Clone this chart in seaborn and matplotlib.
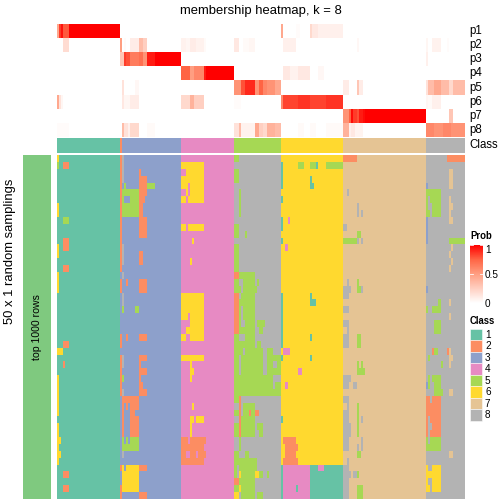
import numpy as np
import matplotlib
matplotlib.use("Agg")
import matplotlib.pyplot as plt
from matplotlib.colors import ListedColormap, LinearSegmentedColormap
from matplotlib.patches import Rectangle
import seaborn as sns

plt.rcParams['font.family'] = ['Liberation Sans', 'DejaVu Sans']

class_names = ['1', '2', '3', '4', '5', '6', '7', '8']
class_colors = ['#66C2A5', '#FC8D62', '#8DA0CB', '#E78AC3', '#A6D854', '#FFD92F', '#E5C494', '#B3B3B3']
prob_labels = ['p1', 'p2', 'p3', 'p4', 'p5', 'p6', 'p7', 'p8']
# white to red as the reference ramps it (through salmon, not pink)
prob_ramp = ['#FFFFFF', '#FFCFC1', '#FF9E81', '#FF6545', '#FF0000']

# samples per class, in drawing order (200 samples)
class_sizes = [31, 1, 29, 26, 23, 30, 41, 19]
# class most rows give to each of those groups in the 50 sampling rows
main_base = [1, 3, 3, 4, 8, 6, 7, 8]

# membership runs: (first sample, last sample, prob)
p1_runs = [(0, 0, .45), (1, 1, .85), (2, 2, .95), (3, 5, .78), (6, 30, 1), (110, 110, .45), (117, 118, .02),
           (124, 124, .2), (125, 127, .12), (128, 139, .08)]
p2_runs = [(3, 5, .18), (31, 31, .5), (33, 33, .03), (36, 39, .1), (40, 41, .35), (42, 43, .25), (61, 62, .07),
           (63, 64, .05), (65, 67, .1), (68, 71, .07), (72, 72, .03), (87, 88, .12), (91, 93, .03), (94, 96, .05),
           (111, 116, .08), (147, 147, .04), (181, 181, .05), (184, 187, .07), (191, 191, .02)]
p3_runs = [(31, 32, .3), (33, 33, .85), (34, 35, .8), (36, 39, .65), (40, 41, .7), (42, 43, .55), (44, 47, .93),
           (48, 60, 1), (181, 181, .08)]
p4_runs = [(61, 64, .75), (65, 66, .5), (67, 71, .6), (72, 72, .93), (73, 86, 1), (111, 113, .12), (114, 117, .07),
           (118, 123, .12), (128, 130, .04)]
p5_runs = [(32, 32, .15), (38, 39, .04), (87, 89, .55), (90, 91, .8), (92, 96, .9), (97, 98, .55), (99, 100, .75),
           (101, 102, .6), (103, 106, .55), (107, 109, .45), (140, 142, .1), (147, 147, .3), (148, 149, .1),
           (181, 181, .15), (182, 184, .35), (185, 187, .45), (188, 191, .35), (192, 193, .2), (194, 199, .35)]
p6_runs = [(0, 0, .45), (1, 1, .15), (2, 2, .05), (32, 32, .12), (33, 35, .05), (36, 39, .1), (61, 64, .2),
           (65, 66, .4), (67, 71, .25), (87, 89, .02), (110, 110, .6), (111, 117, .83), (118, 123, .87),
           (124, 131, .83), (132, 139, .87), (181, 181, .05), (182, 183, .03), (184, 187, .08)]
p7_runs = [(140, 142, .55), (143, 143, .75), (144, 144, .97), (145, 146, .85), (147, 147, .8), (148, 149, .93),
           (150, 150, .97), (151, 180, 1), (192, 193, .3)]
p8_runs = [(0, 5, .02), (32, 32, .35), (33, 34, .15), (35, 35, .08), (36, 39, .2), (44, 47, .03), (87, 88, .15),
           (89, 89, .35), (90, 96, .07), (97, 98, .45), (99, 100, .25), (101, 102, .2), (103, 106, .4),
           (107, 109, .35), (118, 120, .03), (124, 126, .03), (132, 139, .03), (140, 142, .4), (143, 143, .08),
           (144, 145, .12), (146, 149, .06), (181, 184, .6), (185, 188, .55), (189, 192, .6), (193, 199, .55)]

# sampling rows that differ from main_base: (first row, last row, first sample, last sample, class)
diff_c1 = [(0, 0, 0, 0, 6), (1, 1, 0, 0, 5), (1, 1, 3, 5, 2), (7, 8, 0, 0, 6), (9, 9, 3, 5, 5), (12, 13, 3, 5, 2),
           (13, 14, 0, 0, 6), (16, 16, 3, 5, 2), (17, 19, 0, 0, 6), (27, 27, 3, 5, 2), (28, 28, 0, 2, 6),
           (30, 30, 3, 3, 2), (32, 37, 0, 0, 6), (39, 40, 0, 0, 6), (41, 41, 0, 1, 6), (42, 42, 0, 0, 6),
           (43, 43, 0, 1, 6), (44, 44, 0, 0, 6), (46, 46, 3, 5, 2), (48, 48, 3, 5, 2)]
diff_c3 = [(0, 16, 31, 31, 2), (18, 19, 31, 31, 2), (26, 27, 31, 31, 2), (29, 34, 31, 31, 2), (45, 45, 31, 31, 2),
           (48, 49, 31, 31, 2), (0, 3, 32, 32, 8), (13, 15, 32, 32, 8), (17, 17, 32, 32, 8), (20, 21, 32, 32, 8),
           (22, 22, 32, 32, 5), (4, 4, 33, 33, 5), (5, 8, 32, 39, 5), (6, 6, 33, 35, 3), (2, 2, 40, 40, 2),
           (3, 5, 40, 43, 2), (6, 6, 40, 42, 2), (7, 8, 40, 41, 2), (9, 11, 40, 43, 2), (4, 4, 44, 47, 5),
           (14, 15, 40, 41, 2), (18, 19, 40, 43, 2), (18, 18, 34, 34, 2), (22, 22, 38, 39, 5), (26, 26, 34, 34, 2),
           (26, 26, 40, 43, 2), (29, 30, 32, 32, 8), (32, 32, 32, 32, 5), (34, 34, 32, 32, 8), (29, 29, 40, 43, 2),
           (30, 30, 40, 40, 2), (31, 31, 40, 43, 2), (32, 32, 40, 40, 2), (33, 33, 40, 41, 2), (34, 34, 40, 43, 2),
           (35, 35, 32, 39, 2), (36, 36, 32, 32, 2), (36, 36, 34, 34, 2), (36, 36, 36, 39, 2), (37, 37, 32, 32, 2),
           (37, 37, 36, 37, 2), (38, 40, 32, 32, 2), (38, 40, 36, 39, 2), (41, 41, 32, 32, 5), (41, 41, 34, 34, 5),
           (41, 41, 36, 39, 5), (42, 42, 32, 39, 5), (43, 43, 32, 32, 8), (45, 45, 32, 32, 6), (45, 45, 34, 39, 6),
           (45, 45, 40, 43, 2), (46, 48, 32, 39, 6), (49, 49, 40, 43, 2)]
diff_c4 = [(1, 1, 61, 71, 6), (2, 2, 63, 71, 6), (3, 3, 61, 71, 6), (4, 4, 61, 63, 6), (4, 4, 65, 71, 6),
           (5, 5, 63, 63, 6), (5, 5, 65, 71, 6), (6, 6, 61, 62, 6), (6, 6, 64, 71, 6), (10, 10, 61, 62, 6),
           (10, 10, 64, 71, 6), (12, 12, 66, 66, 6), (15, 15, 65, 65, 6), (20, 22, 61, 71, 6), (23, 23, 61, 63, 6),
           (23, 23, 65, 71, 6), (24, 24, 65, 71, 6), (25, 25, 63, 71, 6), (26, 26, 61, 62, 6), (26, 26, 65, 71, 6),
           (29, 29, 61, 71, 6), (30, 30, 65, 65, 6), (31, 31, 65, 66, 6), (32, 32, 65, 65, 6), (36, 36, 66, 66, 6),
           (38, 38, 65, 66, 6), (38, 38, 68, 71, 6), (39, 40, 65, 65, 6), (41, 41, 61, 63, 2), (41, 41, 65, 72, 2),
           (42, 42, 61, 71, 2), (43, 43, 61, 62, 2), (43, 43, 65, 67, 2), (43, 43, 69, 72, 2), (44, 44, 61, 71, 2)]
diff_c5 = [(0, 0, 87, 88, 5), (2, 3, 87, 88, 5), (5, 8, 89, 89, 5), (10, 11, 87, 88, 5), (11, 11, 92, 92, 5),
           (13, 16, 87, 88, 5), (17, 17, 87, 88, 2), (17, 17, 89, 96, 5), (18, 18, 87, 88, 5), (18, 18, 91, 96, 5),
           (18, 18, 98, 98, 5), (19, 19, 87, 89, 5), (19, 19, 91, 97, 5), (20, 20, 87, 88, 2), (20, 20, 90, 96, 5),
           (21, 21, 87, 88, 2), (21, 21, 89, 96, 5), (22, 23, 87, 88, 2), (22, 23, 89, 89, 5), (22, 23, 91, 96, 5),
           (24, 24, 87, 88, 2), (24, 24, 89, 89, 5), (24, 24, 92, 96, 5), (24, 24, 98, 101, 5), (25, 25, 87, 88, 2),
           (25, 25, 89, 96, 5), (25, 25, 99, 100, 5), (26, 26, 87, 88, 5), (26, 26, 92, 96, 5), (27, 27, 87, 96, 5),
           (27, 27, 98, 99, 5), (28, 28, 87, 90, 5), (28, 28, 92, 100, 5), (28, 28, 103, 105, 5), (29, 29, 87, 88, 5),
           (29, 29, 90, 100, 5), (29, 29, 103, 109, 5), (30, 30, 87, 88, 5), (30, 30, 90, 100, 5), (30, 30, 103, 105, 5),
           (30, 30, 108, 109, 5), (31, 31, 87, 88, 5), (31, 31, 90, 100, 5), (31, 31, 103, 109, 5), (32, 32, 87, 105, 5),
           (33, 33, 87, 105, 5), (33, 33, 107, 109, 5), (34, 34, 87, 102, 5), (34, 34, 103, 109, 5), (35, 35, 87, 88, 5),
           (35, 40, 89, 89, 2), (36, 36, 91, 96, 5), (37, 37, 87, 88, 5), (37, 37, 91, 93, 5), (37, 37, 94, 94, 2),
           (37, 37, 95, 96, 5), (37, 37, 97, 98, 2), (38, 38, 90, 96, 5), (39, 40, 87, 88, 5), (39, 40, 90, 96, 5),
           (39, 39, 98, 100, 5), (40, 40, 99, 100, 5), (41, 42, 89, 89, 5), (43, 43, 87, 88, 5), (43, 43, 92, 93, 5),
           (44, 44, 87, 97, 5), (45, 45, 87, 87, 5), (45, 45, 89, 97, 5), (46, 46, 87, 87, 5), (46, 46, 89, 89, 6),
           (46, 46, 90, 96, 5), (46, 46, 97, 98, 6), (46, 46, 99, 100, 5), (46, 46, 103, 103, 5), (47, 47, 87, 88, 2),
           (47, 47, 89, 96, 5), (48, 48, 87, 88, 5), (48, 48, 89, 89, 6), (48, 48, 90, 96, 5), (49, 49, 87, 88, 6),
           (49, 49, 90, 96, 5), (49, 49, 98, 100, 5)]
diff_c6 = [(1, 4, 110, 110, 1), (6, 6, 110, 110, 1), (9, 10, 110, 110, 1), (12, 12, 110, 110, 1), (20, 27, 110, 110, 1),
           (29, 29, 110, 110, 1), (38, 38, 110, 110, 1), (45, 49, 110, 110, 1), (1, 1, 118, 120, 5), (1, 1, 124, 126, 5),
           (1, 1, 127, 127, 1), (1, 1, 132, 139, 5), (3, 3, 124, 124, 1), (4, 4, 124, 125, 1), (9, 9, 113, 113, 4),
           (13, 13, 112, 112, 4), (20, 20, 124, 124, 1), (21, 21, 124, 126, 1), (26, 26, 124, 124, 1),
           (28, 28, 111, 113, 4), (29, 29, 124, 124, 1), (31, 31, 118, 119, 4), (33, 33, 112, 112, 4),
           (41, 41, 111, 116, 2), (42, 42, 112, 117, 2), (43, 43, 112, 116, 2), (44, 44, 111, 117, 2),
           (45, 49, 111, 123, 4), (45, 49, 124, 139, 1), (45, 45, 128, 130, 4), (48, 48, 117, 117, 1)]
diff_c7 = [(0, 0, 140, 146, 2), (5, 5, 142, 142, 8), (7, 8, 147, 147, 8), (8, 8, 149, 149, 8), (10, 10, 140, 141, 8),
           (11, 11, 147, 148, 5), (12, 12, 140, 146, 5), (12, 12, 147, 147, 8), (12, 12, 149, 149, 8), (18, 18, 142, 142, 8),
           (18, 18, 147, 147, 5), (19, 19, 140, 143, 8), (19, 19, 147, 148, 5), (19, 19, 149, 149, 8), (20, 20, 140, 142, 8),
           (22, 22, 140, 142, 8), (24, 24, 140, 142, 8), (25, 25, 142, 142, 8), (26, 27, 140, 142, 8), (26, 27, 147, 148, 5),
           (30, 30, 147, 147, 5), (30, 30, 149, 149, 5), (31, 31, 147, 150, 5), (32, 32, 140, 143, 8), (33, 33, 140, 142, 8),
           (33, 33, 145, 146, 8), (35, 35, 140, 142, 8), (36, 36, 142, 142, 8), (36, 36, 147, 147, 5), (37, 38, 140, 142, 8),
           (37, 40, 147, 147, 5), (38, 38, 149, 149, 8), (39, 40, 140, 143, 8), (41, 42, 140, 142, 8), (41, 42, 149, 149, 8),
           (42, 42, 147, 147, 8), (43, 43, 147, 148, 5), (44, 44, 142, 142, 8), (45, 45, 140, 142, 8), (46, 46, 140, 143, 8),
           (46, 46, 145, 146, 8), (46, 46, 147, 147, 5), (47, 47, 140, 142, 8), (48, 49, 140, 142, 8), (48, 49, 147, 149, 5)]
diff_c8 = [(0, 0, 191, 199, 2), (2, 4, 192, 193, 7), (4, 4, 181, 181, 3), (5, 5, 181, 187, 5), (6, 6, 181, 181, 5),
           (6, 6, 183, 187, 5), (6, 6, 192, 192, 7), (7, 7, 181, 181, 5), (7, 7, 184, 187, 5), (7, 7, 192, 193, 7),
           (8, 8, 181, 182, 5), (8, 8, 184, 187, 5), (8, 8, 192, 192, 7), (9, 12, 181, 181, 3), (9, 9, 192, 193, 7),
           (12, 12, 192, 199, 5), (13, 13, 193, 193, 7), (14, 14, 192, 192, 7), (15, 15, 193, 193, 7), (16, 16, 192, 192, 7),
           (19, 19, 181, 181, 3), (21, 21, 187, 187, 5), (21, 21, 192, 192, 7), (22, 22, 181, 181, 5), (22, 22, 184, 187, 5),
           (23, 23, 192, 192, 7), (24, 25, 185, 187, 5), (28, 28, 184, 184, 2), (28, 28, 185, 186, 5), (28, 28, 191, 191, 2),
           (28, 28, 192, 192, 7), (29, 29, 182, 182, 5), (29, 29, 192, 193, 7), (30, 30, 188, 188, 5), (30, 30, 192, 192, 7),
           (32, 32, 182, 182, 5), (32, 32, 184, 187, 5), (33, 33, 181, 181, 3), (33, 33, 182, 182, 5), (33, 33, 185, 187, 5),
           (34, 34, 185, 188, 5), (34, 34, 192, 193, 7), (35, 35, 181, 182, 2), (35, 35, 184, 187, 2), (36, 37, 181, 187, 2),
           (38, 40, 181, 181, 2), (38, 40, 183, 187, 2), (39, 39, 183, 183, 8), (41, 41, 181, 181, 5), (41, 41, 183, 187, 5),
           (42, 42, 181, 187, 5), (43, 43, 192, 193, 7), (45, 45, 181, 181, 6), (45, 45, 184, 187, 6), (46, 46, 181, 187, 6),
           (47, 47, 181, 181, 6), (47, 47, 184, 187, 6), (48, 48, 181, 182, 6), (48, 48, 184, 187, 6)]

n_samples = sum(class_sizes)
n_rows = 50

class_row = np.repeat(np.arange(1, 9), class_sizes)
main = np.repeat(main_base, class_sizes)
main = np.tile(main, (n_rows, 1))
for diffs in [diff_c1, diff_c3, diff_c4, diff_c5, diff_c6, diff_c7, diff_c8]:
    for r0, r1, c0, c1, cl in diffs:
        main[r0:r1 + 1, c0:c1 + 1] = cl

probs = np.zeros((8, n_samples))
for i, runs in enumerate([p1_runs, p2_runs, p3_runs, p4_runs, p5_runs, p6_runs, p7_runs, p8_runs]):
    for c0, c1, v in runs:
        probs[i, c0:c1 + 1] = v

W = 504.0
H = 504.0


def px_axes(fig, x0, y0, x1, y1):
    # box given in pixels from the top left
    return fig.add_axes([x0 / W, 1 - y1 / H, (x1 - x0) / W, (y1 - y0) / H])


fig = plt.figure(figsize=(7, 7), dpi=72)
class_cmap = ListedColormap(class_colors)
prob_cmap = LinearSegmentedColormap.from_list('prob', prob_ramp)

# membership block, the colour bar comes out of this call
ax_p = px_axes(fig, 57, 24, 465, 137)
cax = px_axes(fig, 470, 245, 483, 303)
sns.heatmap(probs, ax=ax_p, cmap=prob_cmap, vmin=0, vmax=1, cbar_ax=cax, xticklabels=False, yticklabels=False)
for i, lab in enumerate(prob_labels):
    ax_p.text(n_samples + 1.9, i + 0.5, lab, fontsize=11.5, va='center', ha='left')
cax.tick_params(length=0, labelsize=10, pad=2)
cax.set_yticks([0, 0.5, 1])
cax.set_yticklabels(['0', '0.5', '1'])
cax.get_yticklabels()[2].set_va('top')
for v in [0, 0.5, 1]:
    cax.plot([0, 0.2], [v, v], color='white', lw=0.8, transform=cax.get_yaxis_transform())
    cax.plot([0.8, 1], [v, v], color='white', lw=0.8, transform=cax.get_yaxis_transform())
ax_p.collections[0].colorbar.outline.set_visible(False)

# class annotation row
ax_c = px_axes(fig, 57, 138, 465, 153)
sns.heatmap(class_row.reshape(1, -1), ax=ax_c, cmap=class_cmap, vmin=0.5, vmax=8.5, cbar=False,
            xticklabels=False, yticklabels=False)
ax_c.text(n_samples + 1.9, 0.5, 'Class', fontsize=11.5, va='center', ha='left')

# the 50 sampling rows
ax_m = px_axes(fig, 57, 155, 465, 499)
sns.heatmap(main, ax=ax_m, cmap=class_cmap, vmin=0.5, vmax=8.5, cbar=False, xticklabels=False, yticklabels=False)

# left side bar with row title
ax_s = px_axes(fig, 23, 155, 51, 499)
sns.heatmap(np.ones((1, 1)), ax=ax_s, cmap=ListedColormap(['#7FC97F']), cbar=False, xticklabels=False, yticklabels=False)
ax_s.text(0.5, 0.5, 'top 1000 rows', rotation=90, fontsize=10.5, ha='center', va='center')

fig.text(261 / W, 1 - 11 / H, 'membership heatmap, k = 8', fontsize=13, ha='center', va='center')
fig.text(10 / W, 1 - 251 / H, '50 x 1 random samplings', fontsize=13, rotation=90, ha='center', va='center')

# legends
fig.text(470 / W, 1 - 236 / H, 'Prob', fontsize=9.5, fontweight='bold', ha='left', va='center')
fig.text(470 / W, 1 - 321 / H, 'Class', fontsize=9.5, fontweight='bold', ha='left', va='center')
for i, (name, col) in enumerate(zip(class_names, class_colors)):
    y = 329 + i * 11.45
    fig.add_artist(Rectangle((470 / W, 1 - (y + 11.45) / H), 12 / W, 11.45 / H, facecolor=col,
                             edgecolor='white', lw=0.5, transform=fig.transFigure))
    fig.text(485 / W, 1 - (y + 6) / H, name, fontsize=10, ha='left', va='center')

fig.savefig('out.png', dpi=72)
